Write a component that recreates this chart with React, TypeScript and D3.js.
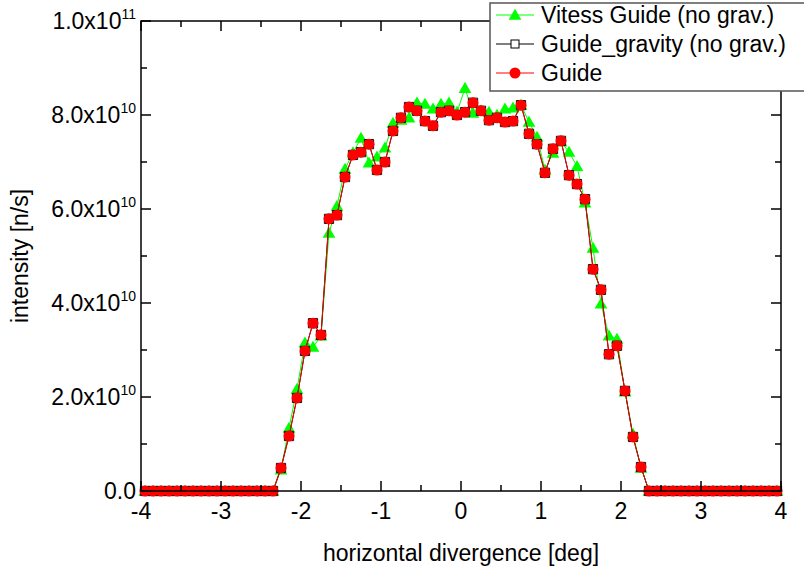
import React from "react";
import * as d3 from "d3";

// bin centres run from -3.95 to 3.95 deg in 0.1 deg steps
const binStart = -3.95;
const binStep = 0.1;

// intensities in units of 1e10 n/s
const vitessGuide = [
  0, 0, 0, 0, 0, 0, 0, 0, 0, 0, 0, 0, 0, 0, 0, 0, 0,
  0.45, 1.34, 2.17, 3.15, 3.06, 3.3, 5.49, 6.06, 6.85, 7.2, 7.51, 6.98, 7.11, 7.3, 7.83, 7.89,
  7.94, 8.26, 8.23, 8.13, 8.23, 8.26, 8.06, 8.57, 8.04, 8.09, 8.06, 8.0, 8.13, 8.15, 8.21, 7.85,
  7.53, 6.83, 7.19, 7.43, 7.21, 6.91, 6.13, 5.17, 3.98, 3.3, 3.23, 2.11, 1.21, 0.49,
  0, 0, 0, 0, 0, 0, 0, 0, 0, 0, 0, 0, 0, 0, 0, 0, 0,
];

const guideGravity = [
  0, 0, 0, 0, 0, 0, 0, 0, 0, 0, 0, 0, 0, 0, 0, 0, 0,
  0.49, 1.17, 1.98, 2.98, 3.57, 3.32, 5.79, 5.87, 6.68, 7.15, 7.21, 7.38, 6.83, 7.0, 7.66, 7.94,
  8.17, 8.09, 7.87, 7.77, 8.06, 8.09, 8.0, 8.06, 8.26, 8.09, 7.89, 7.94, 7.85, 7.87, 8.21, 7.6,
  7.38, 6.77, 7.28, 7.45, 6.72, 6.53, 6.21, 4.72, 4.28, 2.91, 3.09, 2.13, 1.15, 0.51,
  0, 0, 0, 0, 0, 0, 0, 0, 0, 0, 0, 0, 0, 0, 0, 0, 0,
];

const guide = [
  0, 0, 0, 0, 0, 0, 0, 0, 0, 0, 0, 0, 0, 0, 0, 0, 0,
  0.49, 1.17, 1.98, 2.98, 3.57, 3.32, 5.79, 5.87, 6.68, 7.15, 7.21, 7.38, 6.83, 7.0, 7.66, 7.94,
  8.17, 8.09, 7.87, 7.77, 8.06, 8.09, 8.0, 8.06, 8.26, 8.09, 7.89, 7.94, 7.85, 7.87, 8.21, 7.6,
  7.38, 6.77, 7.28, 7.45, 6.72, 6.53, 6.21, 4.72, 4.28, 2.91, 3.09, 2.13, 1.15, 0.51,
  0, 0, 0, 0, 0, 0, 0, 0, 0, 0, 0, 0, 0, 0, 0, 0, 0,
];

const xTicks = [-4, -3, -2, -1, 0, 1, 2, 3, 4];
const xMinor = [-3.5, -2.5, -1.5, -0.5, 0.5, 1.5, 2.5, 3.5];
const yTicks = [0, 2, 4, 6, 8, 10];
const yMinor = [1, 3, 5, 7, 9];
const yTickText = ["0.0", "2.0x10", "4.0x10", "6.0x10", "8.0x10", "1.0x10"];
const yTickExp = ["", "10", "10", "10", "10", "11"];

const legendNames = ["Vitess Guide (no grav.)", "Guide_gravity (no grav.)", "Guide"];

const W = 804;
const H = 569;
const margin = { top: 21, right: 23, bottom: 78, left: 141 };
const FONT = "'Liberation Sans', Arial, sans-serif";
const FS = 23;

export default function App() {
  const x = d3.scaleLinear().domain([-4, 4]).range([margin.left, W - margin.right]);
  const y = d3.scaleLinear().domain([0, 10]).range([H - margin.bottom, margin.top]);
  const x0 = x(-4), x1 = x(4), y0 = y(0), y1 = y(10);

  const pts = (vals: number[]) => vals.map((v, i) => [binStart + i * binStep, v] as [number, number]);
  const line = d3.line<[number, number]>().x((d) => x(d[0])).y((d) => y(d[1]));

  const tri = d3.symbol().type(d3.symbolTriangle).size(70)();
  const sq = d3.symbol().type(d3.symbolSquare).size(85)();

  const green = "#00ff00";
  const red = "#ff0000";

  const legendRows = [15, 44, 73];

  return (
    <svg width={W} height={H} style={{ position: "absolute", left: 0, top: 0, background: "#fff" }} fontFamily={FONT}>
      {/* Vitess */}
      <path d={line(pts(vitessGuide)) || ""} fill="none" stroke={green} strokeWidth={1} />
      {pts(vitessGuide).map((d, i) => (
        <path key={"t" + i} d={tri} transform={`translate(${x(d[0])},${y(d[1]) + 1})`} fill={green} />
      ))}
      {/* Guide_gravity */}
      <path d={line(pts(guideGravity)) || ""} fill="none" stroke="#000" strokeWidth={1} />
      {pts(guideGravity).map((d, i) => (
        <path key={"s" + i} d={sq} transform={`translate(${x(d[0])},${y(d[1])})`} fill="#fff" stroke="#000" strokeWidth={1} />
      ))}
      {/* Guide */}
      <path d={line(pts(guide)) || ""} fill="none" stroke={red} strokeWidth={1} />
      {pts(guide).map((d, i) => (
        <circle key={"c" + i} cx={x(d[0])} cy={y(d[1])} r={5.5} fill={red} />
      ))}

      {/* frame */}
      <rect x={x0} y={y1} width={x1 - x0} height={y0 - y1} fill="none" stroke="#000" strokeWidth={1.5} />

      {/* x ticks, inward on bottom and top */}
      {xTicks.map((t) => (
        <g key={"xt" + t}>
          <line x1={x(t)} x2={x(t)} y1={y0} y2={y0 - 10} stroke="#000" strokeWidth={1.5} />
          <line x1={x(t)} x2={x(t)} y1={y1} y2={y1 + 10} stroke="#000" strokeWidth={1.5} />
          <text x={x(t)} y={519} textAnchor="middle" fontSize={FS}>{t}</text>
        </g>
      ))}
      {xMinor.map((t) => (
        <g key={"xm" + t}>
          <line x1={x(t)} x2={x(t)} y1={y0} y2={y0 - 6} stroke="#000" strokeWidth={1.5} />
          <line x1={x(t)} x2={x(t)} y1={y1} y2={y1 + 6} stroke="#000" strokeWidth={1.5} />
        </g>
      ))}

      {/* y ticks, inward on left and right */}
      {yTicks.map((t, i) => (
        <g key={"yt" + t}>
          <line x1={x0} x2={x0 + 10} y1={y(t)} y2={y(t)} stroke="#000" strokeWidth={1.5} />
          <line x1={x1} x2={x1 - 10} y1={y(t)} y2={y(t)} stroke="#000" strokeWidth={1.5} />
          <text x={136} y={y(t) + 8} textAnchor="end" fontSize={FS}>
            {yTickText[i]}
            {yTickExp[i] && (
              <tspan fontSize={14} dy={-10}>{yTickExp[i]}</tspan>
            )}
          </text>
        </g>
      ))}
      {yMinor.map((t) => (
        <g key={"ym" + t}>
          <line x1={x0} x2={x0 + 6} y1={y(t)} y2={y(t)} stroke="#000" strokeWidth={1.5} />
          <line x1={x1} x2={x1 - 6} y1={y(t)} y2={y(t)} stroke="#000" strokeWidth={1.5} />
        </g>
      ))}

      <text x={(x0 + x1) / 2} y={561} textAnchor="middle" fontSize={FS}>horizontal divergence [deg]</text>
      <text transform={`translate(28,${(y0 + y1) / 2}) rotate(-90)`} textAnchor="middle" fontSize={FS}>intensity [n/s]</text>

      {/* legend */}
      <rect x={490} y={3} width={330} height={88} fill="#fff" stroke="#555" strokeWidth={1.5} />
      {legendNames.map((name, i) => {
        const ly = legendRows[i];
        const col = i === 0 ? green : i === 1 ? "#000" : red;
        return (
          <g key={name}>
            <line x1={496} x2={534} y1={ly} y2={ly} stroke={col} strokeWidth={1} />
            {i === 0 && <path d={tri} transform={`translate(515,${ly + 1})`} fill={green} />}
            {i === 1 && <rect x={511} y={ly - 4} width={8} height={8} fill="#fff" stroke="#000" strokeWidth={1} />}
            {i === 2 && <circle cx={515} cy={ly} r={5.5} fill={red} />}
            <text x={541} y={ly + 8} fontSize={FS}>{name}</text>
          </g>
        );
      })}
    </svg>
  );
}
